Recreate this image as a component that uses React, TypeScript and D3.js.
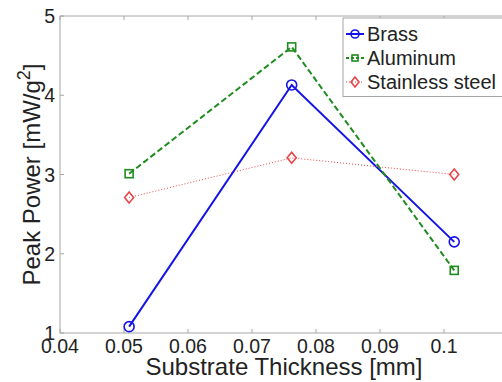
import React from "react";
import * as d3 from "d3";

const thickness = [0.0508, 0.0762, 0.1016];
const brass = [1.08, 4.13, 2.15];
const aluminum = [3.01, 4.61, 1.79];
const stainless = [2.71, 3.21, 3.0];
const xTicks = [0.04, 0.05, 0.06, 0.07, 0.08, 0.09, 0.1, 0.11];
const xTickLabels = ["0.04", "0.05", "0.06", "0.07", "0.08", "0.09", "0.1", ""];
const yTicks = [1, 2, 3, 4, 5];
const seriesNames = ["Brass", "Aluminum", "Stainless steel"];

const W = 502;
const H = 382;
const left = 60, right = 508, top = 16, bottom = 333;
const font = "'Liberation Sans', Arial, sans-serif";

export default function App() {
  const x = d3.scaleLinear().domain([0.04, 0.11]).range([left, right]);
  const y = d3.scaleLinear().domain([1, 5]).range([bottom, top]);
  const line = d3
    .line<[number, number]>()
    .x((d) => x(d[0]))
    .y((d) => y(d[1]));

  const series = [
    { name: seriesNames[0], values: brass, color: "#1414e6", width: 2, dash: "none", legDash: "none", marker: "circle" },
    { name: seriesNames[1], values: aluminum, color: "#1e8c1e", width: 2, dash: "6,3", legDash: "3,2", marker: "square" },
    { name: seriesNames[2], values: stainless, color: "#e8454a", width: 1, dash: "1,2", legDash: "1,2", marker: "diamond" },
  ];

  const marker = (type: string, cx: number, cy: number, color: string, key: string) => {
    if (type === "circle")
      return <circle key={key} cx={cx} cy={cy} r={5} fill="none" stroke={color} strokeWidth={1.6} />;
    if (type === "square")
      return <rect key={key} x={cx - 4} y={cy - 4} width={8} height={8} fill="none" stroke={color} strokeWidth={1.6} />;
    return (
      <path
        key={key}
        d={`M${cx},${cy - 5.5}L${cx + 4.5},${cy}L${cx},${cy + 5.5}L${cx - 4.5},${cy}Z`}
        fill="none"
        stroke={color}
        strokeWidth={1.6}
      />
    );
  };

  const legX = 343, legY = 18, legRowH = 24;

  return (
    <div style={{ position: "fixed", left: 0, top: 0 }}>
      <svg width={W} height={H} style={{ display: "block", background: "#fff" }}>
        {/* axes box */}
        <g stroke="#a6a6a6" strokeWidth={1} fill="none">
          <line x1={left} y1={top} x2={right} y2={top} />
          <line x1={left} y1={top} x2={left} y2={bottom} />
          <line x1={left} y1={bottom} x2={right} y2={bottom} />
          <line x1={right} y1={top} x2={right} y2={bottom} />
          {xTicks.map((t) => (
            <g key={"xt" + t}>
              <line x1={x(t)} x2={x(t)} y1={bottom} y2={bottom - 4} />
              <line x1={x(t)} x2={x(t)} y1={top} y2={top + 4} />
            </g>
          ))}
          {yTicks.map((t) => (
            <g key={"yt" + t}>
              <line x1={left} x2={left + 4} y1={y(t)} y2={y(t)} />
              <line x1={right} x2={right - 4} y1={y(t)} y2={y(t)} />
            </g>
          ))}
        </g>
        {/* tick labels */}
        <g fontFamily={font} fontSize={19.5} fill="#222">
          {xTicks.map((t, i) => (
            <text key={"xl" + t} x={x(t)} y={bottom + 20} textAnchor="middle">
              {xTickLabels[i]}
            </text>
          ))}
          {yTicks.map((t) => (
            <text key={"yl" + t} x={left - 5} y={y(t) + 7} textAnchor="end">
              {t}
            </text>
          ))}
        </g>
        {/* axis labels */}
        <text x={(left + right) / 2} y={375} textAnchor="middle" fontFamily={font} fontSize={24} fill="#222">
          Substrate Thickness [mm]
        </text>
        <text
          transform={`translate(40,${(top + bottom) / 2}) rotate(-90)`}
          textAnchor="middle"
          fontFamily={font}
          fontSize={24}
          fill="#222"
        >
          Peak Power [mW/g
          <tspan dy={-10} fontSize={18}>2</tspan>
          <tspan dy={10}>]</tspan>
        </text>
        {/* series */}
        {series.map((s) => {
          const pts = thickness.map((t, i) => [t, s.values[i]] as [number, number]);
          return (
            <g key={s.name}>
              <path d={line(pts) || ""} fill="none" stroke={s.color} strokeWidth={s.width} strokeDasharray={s.dash} />
              {pts.map((p, i) => marker(s.marker, x(p[0]), y(p[1]), s.color, s.name + i))}
            </g>
          );
        })}
        {/* legend */}
        <rect x={legX} y={legY} width={180} height={78.5} fill="#fff" stroke="#a6a6a6" strokeWidth={1} />
        {series.map((s, i) => {
          const cy = legY + 16 + i * legRowH;
          const mx = legX + 12;
          return (
            <g key={"leg" + s.name}>
              <line x1={legX + 3} x2={legX + 21} y1={cy} y2={cy} stroke={s.color} strokeWidth={s.width} strokeDasharray={s.legDash} />
              {s.marker === "circle" ? (
                <circle cx={mx} cy={cy} r={4} fill="none" stroke={s.color} strokeWidth={1.6} />
              ) : s.marker === "square" ? (
                <rect x={mx - 3} y={cy - 3} width={6} height={6} fill="none" stroke={s.color} strokeWidth={1.6} />
              ) : (
                <path d={`M${mx},${cy - 5}L${mx + 4},${cy}L${mx},${cy + 5}L${mx - 4},${cy}Z`} fill="none" stroke={s.color} strokeWidth={1.6} />
              )}
              <text x={legX + 24} y={cy + 7} fontFamily={font} fontSize={20} fill="#222">
                {s.name}
              </text>
            </g>
          );
        })}
      </svg>
    </div>
  );
}
